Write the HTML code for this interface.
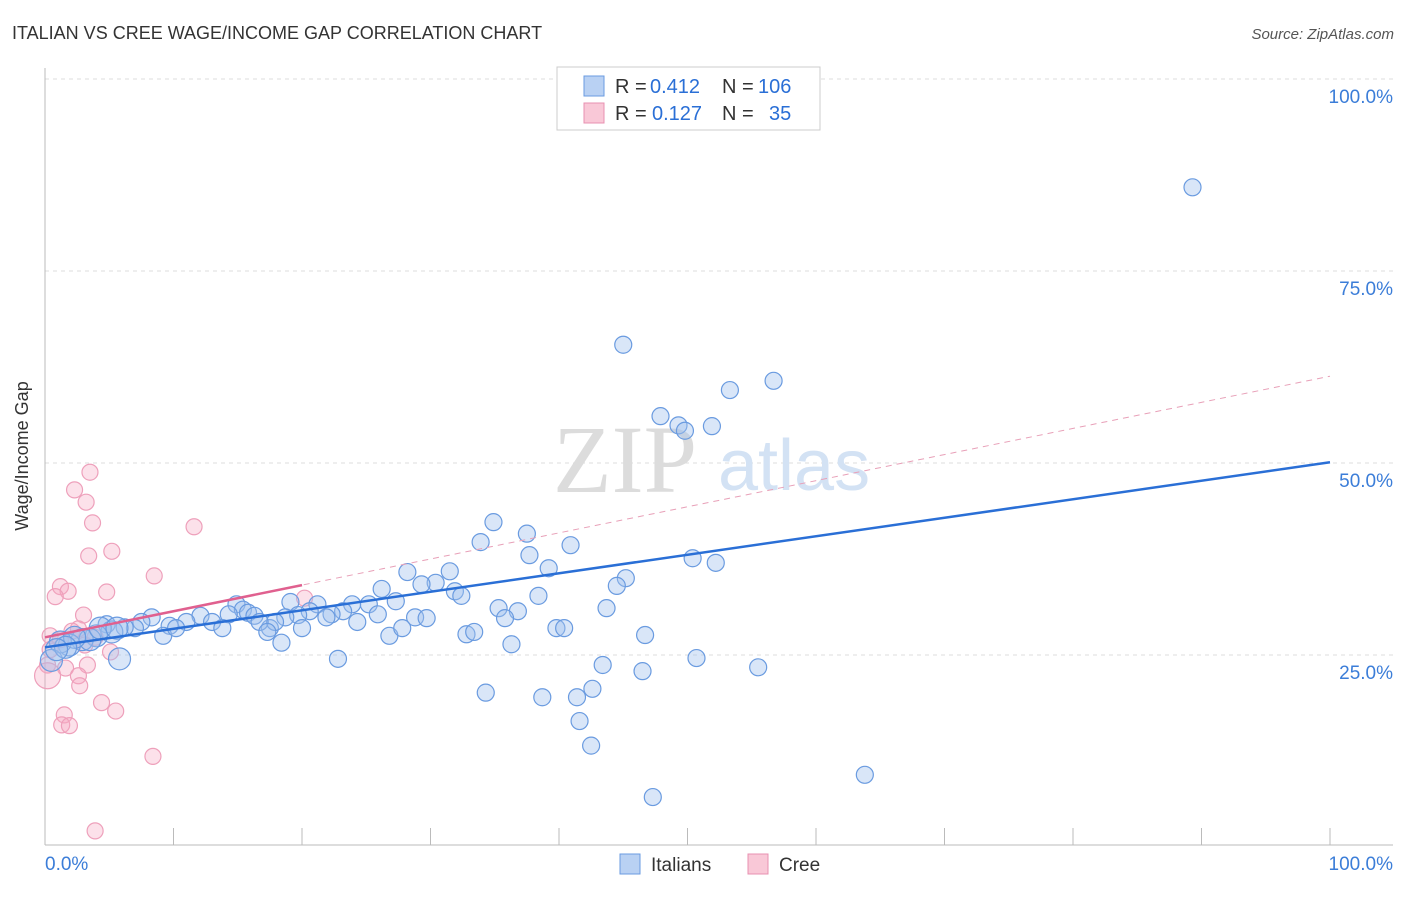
<!DOCTYPE html>
<html><head><meta charset="utf-8"><style>
body{margin:0;background:#fff;font-family:"Liberation Sans",sans-serif;}
svg text{font-family:"Liberation Sans",sans-serif;}
</style></head><body>
<svg width="1406" height="892" xmlns="http://www.w3.org/2000/svg">
<text x="12" y="39" font-size="18" fill="#333">ITALIAN VS CREE WAGE/INCOME GAP CORRELATION CHART</text>
<text x="1394" y="39" font-size="15" fill="#555" font-style="italic" text-anchor="end">Source: ZipAtlas.com</text>
<g id="grid"></g>
<g id="wm">
<text x="553" y="492" font-size="96" fill="#dcdcdc" style="font-family:'Liberation Serif',serif">ZIP</text>
<text x="718" y="490" font-size="72" fill="#d3e2f4">atlas</text>
</g>
<g id="axes"></g>
<g id="pts"></g>
<g id="lines"></g>
<text x="28" y="456" font-size="18" fill="#333" text-anchor="middle" transform="rotate(-90 28 456)">Wage/Income Gap</text>
<g>
<rect x="557" y="67" width="263" height="63" fill="#fff" stroke="#ccc"/>
<rect x="584" y="76" width="20" height="20" fill="#b9d1f3" stroke="#6a9be0"/>
<rect x="584" y="103" width="20" height="20" fill="#f9c8d7" stroke="#e890b0"/>
<text x="615" y="93" font-size="20" fill="#333">R =</text>
<text x="650" y="93" font-size="20" fill="#2a6fd6">0.412</text>
<text x="722" y="93" font-size="20" fill="#333">N =</text>
<text x="758" y="93" font-size="20" fill="#2a6fd6">106</text>
<text x="615" y="120" font-size="20" fill="#333">R =</text>
<text x="652" y="120" font-size="20" fill="#2a6fd6">0.127</text>
<text x="722" y="120" font-size="20" fill="#333">N =</text>
<text x="769" y="120" font-size="20" fill="#2a6fd6">35</text>
</g>
<g>
<rect x="620" y="854" width="20" height="20" fill="#b9d1f3" stroke="#6a9be0"/>
<text x="651" y="871" font-size="19" fill="#333">Italians</text>
<rect x="748" y="854" width="20" height="20" fill="#f9c8d7" stroke="#e890b0"/>
<text x="779" y="871" font-size="19" fill="#333">Cree</text>
</g>
</svg>
<script>
const yTicks=[25,50,75,100];
const yTickLabels=["25.0%","50.0%","75.0%","100.0%"];
const xTickLabels=["0.0%","100.0%"];
const blueX=[89.3,45.0,56.7,53.3,47.9,49.3,49.8,51.9,34.9,37.5,33.9,40.9,37.7,50.4,52.2,39.2,28.2,31.5,45.2,30.4,44.5,26.2,29.3,31.9,32.4,38.4,27.3,25.2,23.9,43.7,35.3,36.8,35.8,28.8,29.7,25.9,23.2,19.1,21.2,20.6,19.7,22.3,21.9,24.3,18.7,20.0,17.5,17.9,14.9,15.4,15.8,16.3,14.3,16.7,17.3,18.4,26.8,27.8,39.8,40.4,32.8,33.4,46.7,36.3,22.8,43.4,50.7,55.5,46.5,34.3,38.7,41.4,42.6,41.6,42.5,63.8,47.3,12.1,13.0,13.8,11.0,9.7,8.3,7.5,9.2,10.2,7.0,6.2,4.8,5.2,4.0,2.9,1.9,1.2,0.5,5.8,3.5,2.3,1.6,4.3,5.6,0.9];
const blueY=[85.9,65.4,60.7,59.5,56.1,54.9,54.2,54.8,42.3,40.8,39.7,39.3,38.0,37.6,37.0,36.3,35.8,35.9,35.0,34.4,34.0,33.6,34.2,33.3,32.7,32.7,32.0,31.6,31.6,31.1,31.1,30.7,29.8,29.9,29.8,30.3,30.7,31.9,31.6,30.7,30.2,30.3,29.9,29.3,29.9,28.5,28.5,29.3,31.6,30.9,30.5,30.1,30.3,29.3,28.0,26.6,27.5,28.5,28.5,28.5,27.7,28.0,27.6,26.4,24.5,23.7,24.6,23.4,22.9,20.1,19.5,19.5,20.6,16.4,13.2,9.4,6.5,30.1,29.3,28.5,29.3,28.8,29.9,29.3,27.5,28.5,28.5,28.6,29.0,28.0,27.5,27.0,26.3,26.7,24.3,24.5,27.0,27.3,26.0,28.5,28.5,25.7];
const pinkX=[3.5,2.3,3.2,3.7,11.6,5.2,3.4,8.5,1.2,1.8,4.8,0.8,20.2,3.0,2.6,0.4,1.2,3.1,5.1,3.3,1.6,0.2,0.2,2.6,2.7,4.4,5.5,1.5,1.3,1.9,8.4,3.9,0.4,3.9,2.1];
const pinkY=[48.8,46.5,44.9,42.2,41.7,38.5,37.9,35.3,33.9,33.3,33.2,32.6,32.4,30.2,28.4,27.5,27.0,26.3,25.4,23.7,23.3,23.7,22.3,22.3,21.0,18.8,17.7,17.2,15.9,15.8,11.8,2.1,25.7,27.3,28.1];
const blueTrend=[26.0,50.1];
const pinkTrend=[27.3,61.3];
const NS="http://www.w3.org/2000/svg";
const X=v=>45+v*12.85, Y=v=>847-v*7.68;
function mk(p,t,a){const e=document.createElementNS(NS,t);for(const k in a)e.setAttribute(k,a[k]);p.appendChild(e);return e;}
const grid=document.getElementById('grid'),axes=document.getElementById('axes'),pts=document.getElementById('pts'),lines=document.getElementById('lines');
yTicks.forEach((t,i)=>{
 const l=mk(grid,'line',{x1:45,x2:1393,y1:Y(t),y2:Y(t),stroke:'#ddd','stroke-dasharray':'4,4'});
 
 
 const tx=mk(axes,'text',{x:1393,y:Y(t)+24,'font-size':19,fill:'#3b7dd8','text-anchor':'end'});
 tx.textContent=yTickLabels[i];
 
 
});
const a1=mk(axes,'line',{x1:45,x2:45,y1:68,y2:845,stroke:'#bbb'});


const a2=mk(axes,'line',{x1:45,x2:1393,y1:845,y2:845,stroke:'#bbb'});


for(let i=0;i<=10;i++){
 const t=mk(axes,'line',{x1:X(i*10),x2:X(i*10),y1:828,y2:845,stroke:'#bbb'});
 
 
}
[[0,'start',45],[100,'end',1393]].forEach((d,i)=>{
 const tx=mk(axes,'text',{x:d[2],y:870,'font-size':19,fill:'#3b7dd8','text-anchor':d[1]});
 tx.textContent=xTickLabels[i];
 
 
});
pinkX.forEach((x,i)=>{
 const c=mk(pts,'circle',{cx:X(x),cy:Y(pinkY[i]),r:(i==22?13:8),fill:'rgba(245,170,195,0.35)',stroke:'#eea0bb','stroke-width':1.2});
 
 
});
blueX.forEach((x,i)=>{
 const big=(x<6&&blueY[i]<29&&blueY[i]>24);
 const c=mk(pts,'circle',{cx:X(x),cy:Y(blueY[i]),r:big?11:8.5,fill:'rgba(160,192,238,0.4)',stroke:'#6a9be0','stroke-width':1.2});
 
 
});
const bl=mk(lines,'line',{x1:X(0),y1:Y(blueTrend[0]),x2:X(100),y2:Y(blueTrend[1]),stroke:'#2a6fd6','stroke-width':2.5});


const pd=mk(lines,'line',{x1:X(0),y1:Y(pinkTrend[0]),x2:X(100),y2:Y(pinkTrend[1]),stroke:'#e8a0b8','stroke-width':1,'stroke-dasharray':'6,5'});


const k=(pinkTrend[1]-pinkTrend[0])/100;
const ps=mk(lines,'line',{x1:X(0),y1:Y(pinkTrend[0]),x2:X(20),y2:Y(pinkTrend[0]+k*20),stroke:'#e0608f','stroke-width':2.5});


</script>
</body></html>
